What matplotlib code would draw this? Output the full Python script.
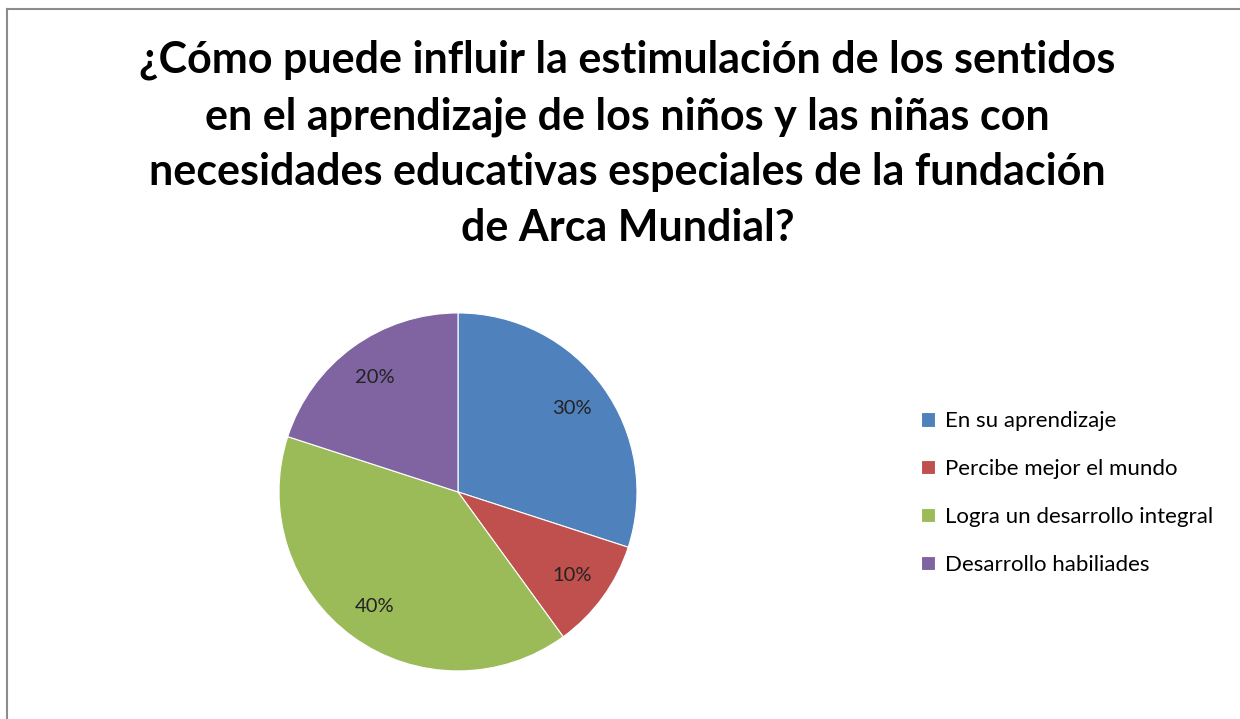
import matplotlib.pyplot as plt
from matplotlib.lines import Line2D

# data
categorias = ["En su aprendizaje", "Percibe mejor el mundo",
              "Logra un desarrollo integral", "Desarrollo habiliades"]
porcentajes = [30, 10, 40, 20]
colores = ["#4F81BD", "#C0504D", "#9BBB59", "#8064A2"]
titulo = ("¿Cómo puede influir la estimulación de los sentidos\n"
          "en el aprendizaje de los niños y las niñas con\n"
          "necesidades educativas especiales de la fundación\n"
          "de Arca Mundial?")

plt.rcParams['font.family'] = ['Lato', 'DejaVu Sans']

fig = plt.figure(figsize=(12.4, 7.19), dpi=100)

# chart border (left and top visible)
fig.add_artist(Line2D([7 / 1240, 7 / 1240], [0, 1 - 9 / 719], color="#8c8c8c", lw=1.5))
fig.add_artist(Line2D([7 / 1240, 1], [1 - 9 / 719, 1 - 9 / 719], color="#8c8c8c", lw=1.5))

fig.text(0.506, 1 - 144 / 719, titulo, ha="center", va="center",
         fontsize=31, fontweight="bold", linespacing=1.48, color="#000000")

ax = fig.add_axes([0.225, 0.0668, 0.2887, 0.498])
wedges, textos, autotextos = ax.pie(
    porcentajes, colors=colores, startangle=90, counterclock=False,
    autopct="%1.0f%%", pctdistance=0.79,
    wedgeprops=dict(edgecolor="white", linewidth=0.8),
    textprops=dict(fontsize=14.5, color="#222222"))
ax.set_aspect("equal")
ax.set_xlim(-1.0, 1.0)
ax.set_ylim(-1.0, 1.0)

leg = fig.legend(wedges, categorias, loc="center left",
                 bbox_to_anchor=(0.727, 1 - 493 / 719), frameon=False,
                 fontsize=16, handlelength=0.6, handleheight=0.6,
                 handletextpad=0.45, labelspacing=1.25)

fig.savefig("out.png", dpi=100)
